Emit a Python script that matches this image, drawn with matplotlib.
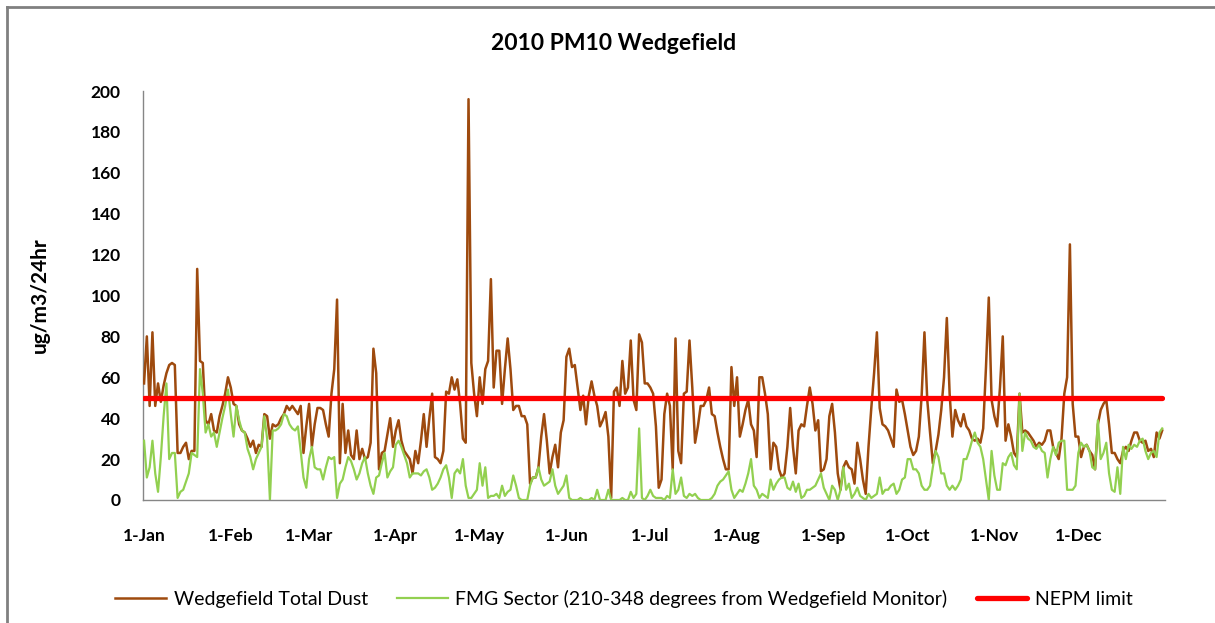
import matplotlib
matplotlib.use("Agg")
import matplotlib.pyplot as plt
import matplotlib.dates as mdates
from matplotlib.ticker import FuncFormatter
from matplotlib.lines import Line2D
import pandas as pd

plt.rcParams['font.family'] = ['Lato', 'DejaVu Sans']

TITLE = "2010 PM10 Wedgefield"
Y_LABEL = "ug/m3/24hr"
SERIES_NAMES = ["Wedgefield Total Dust",
                "FMG Sector (210-348 degrees from Wedgefield Monitor)",
                "NEPM limit"]
NEPM_LIMIT = 50

# Wedgefield Total Dust, daily values by month (ug/m3/24hr)
total_jan = [57, 80, 46, 82, 46, 57, 48, 56, 62, 66, 67, 66, 23, 23, 26, 28, 20, 24, 24, 113,
             68, 67, 39, 37, 42, 34, 33, 41, 46, 52, 60]
total_feb = [55, 47, 46, 37, 34, 33, 30, 26, 29, 23, 27, 26, 42, 41, 30, 37, 36, 37, 40, 42,
             46, 44, 46, 44, 42, 46, 23, 36]
total_mar = [47, 26, 37, 45, 45, 44, 37, 31, 52, 64, 98, 18, 47, 23, 34, 22, 20, 34, 20, 25,
             20, 21, 28, 74, 62, 15, 23, 24, 32, 40, 26]
total_apr = [34, 39, 29, 24, 22, 20, 13, 24, 18, 29, 42, 26, 40, 52, 21, 20, 18, 24, 53, 52,
             60, 54, 59, 47, 30, 28, 196, 67, 52, 41]
total_may = [60, 47, 64, 68, 108, 55, 73, 73, 47, 64, 79, 64, 44, 46, 46, 41, 41, 37, 8, 11,
             11, 16, 31, 42, 29, 13, 21, 27, 16, 33, 39]
total_jun = [70, 74, 65, 66, 55, 44, 51, 37, 51, 58, 51, 46, 36, 39, 43, 31, 1, 53, 55, 46,
             68, 52, 55, 78, 49, 44, 81, 77, 57, 57]
total_jul = [55, 52, 36, 6, 10, 42, 52, 46, 15, 79, 24, 18, 52, 53, 78, 55, 28, 36, 46, 46,
             49, 55, 42, 41, 33, 26, 20, 15, 15, 65, 46]
total_aug = [60, 31, 37, 44, 49, 37, 34, 21, 60, 60, 52, 42, 15, 28, 26, 15, 11, 13, 26, 45,
             26, 13, 34, 37, 36, 46, 55, 47, 34, 39, 14]
total_sep = [15, 20, 41, 47, 33, 13, 5, 16, 19, 16, 15, 8, 28, 20, 10, 3, 26, 45, 62, 82,
             45, 37, 36, 34, 30, 26, 54, 48, 49, 42]
total_oct = [34, 26, 22, 24, 31, 51, 82, 49, 33, 18, 24, 32, 44, 60, 89, 52, 31, 44, 39, 36,
             42, 36, 34, 30, 29, 30, 28, 35, 65, 99, 49]
total_nov = [41, 36, 55, 80, 29, 37, 31, 23, 21, 52, 33, 34, 33, 31, 29, 26, 28, 27, 29, 34,
             34, 26, 23, 20, 30, 52, 60, 125, 47, 31]
total_dec = [31, 21, 26, 27, 24, 22, 15, 37, 44, 47, 49, 37, 23, 23, 20, 18, 24, 26, 24, 29,
             33, 33, 29, 28, 29, 24, 25, 21, 33, 30, 34]

# FMG Sector (210-348 degrees), daily values by month
fmg_jan = [29, 11, 16, 29, 13, 4, 21, 41, 57, 20, 23, 23, 1, 4, 5, 9, 13, 23, 22, 21,
           64, 52, 33, 37, 31, 33, 26, 33, 40, 46, 54]
fmg_feb = [42, 31, 46, 39, 34, 33, 25, 21, 15, 20, 23, 26, 41, 30, 0, 34, 34, 35, 37, 42,
           41, 37, 35, 34, 36, 24, 11, 6]
fmg_mar = [20, 26, 16, 15, 15, 10, 16, 21, 20, 21, 1, 8, 10, 16, 21, 19, 15, 10, 13, 18,
           21, 13, 7, 3, 11, 12, 18, 23, 11, 14, 16]
fmg_apr = [27, 29, 26, 22, 18, 11, 13, 13, 13, 12, 14, 15, 11, 5, 6, 8, 11, 15, 17, 11,
           1, 13, 15, 13, 20, 7, 1, 1, 3, 5]
fmg_may = [18, 7, 16, 1, 2, 2, 3, 1, 7, 2, 4, 5, 12, 7, 1, 0, 0, 0, 7, 11,
           11, 16, 10, 7, 8, 9, 15, 7, 3, 5, 7]
fmg_jun = [12, 1, 0, 0, 0, 1, 0, 0, 0, 1, 0, 5, 0, 0, 0, 5, 0, 0, 0, 0,
           1, 0, 0, 4, 1, 3, 35, 1, 0, 2]
fmg_jul = [5, 2, 1, 1, 1, 0, 2, 1, 15, 3, 5, 11, 2, 1, 3, 2, 3, 1, 0, 0,
           0, 0, 1, 3, 7, 9, 10, 12, 14, 5, 1]
fmg_aug = [3, 5, 4, 8, 13, 20, 7, 5, 1, 3, 2, 1, 10, 5, 8, 10, 11, 11, 6, 5,
           9, 4, 8, 1, 2, 5, 5, 6, 7, 10, 13]
fmg_sep = [6, 3, 0, 7, 5, 0, 5, 16, 5, 8, 1, 3, 6, 2, 1, 0, 3, 1, 2, 3,
           11, 3, 5, 5, 7, 8, 3, 5, 10, 11]
fmg_oct = [20, 20, 15, 15, 13, 7, 5, 5, 7, 16, 24, 21, 13, 13, 7, 5, 7, 5, 7, 10,
           20, 20, 24, 29, 33, 28, 26, 20, 10, 0, 24]
fmg_nov = [12, 5, 5, 18, 17, 21, 23, 17, 15, 52, 24, 33, 30, 29, 26, 25, 27, 24, 23, 11,
           20, 26, 22, 28, 29, 29, 5, 5, 5, 7]
fmg_dec = [23, 28, 26, 27, 24, 16, 15, 39, 20, 23, 28, 13, 5, 4, 16, 3, 26, 20, 27, 25,
           27, 26, 29, 30, 24, 20, 23, 24, 21, 33, 35]

Y_TICKS = [0, 20, 40, 60, 80, 100, 120, 140, 160, 180, 200]
MONTH_TICKS = ["2010-01-01", "2010-02-01", "2010-03-01", "2010-04-01", "2010-05-01",
               "2010-06-01", "2010-07-01", "2010-08-01", "2010-09-01", "2010-10-01",
               "2010-11-01", "2010-12-01"]

total = (total_jan + total_feb + total_mar + total_apr + total_may + total_jun +
         total_jul + total_aug + total_sep + total_oct + total_nov + total_dec)
fmg = (fmg_jan + fmg_feb + fmg_mar + fmg_apr + fmg_may + fmg_jun +
       fmg_jul + fmg_aug + fmg_sep + fmg_oct + fmg_nov + fmg_dec)
dates = pd.date_range("2010-01-01", periods=len(total), freq="D")

BROWN = "#9E4A0E"
GREEN = "#92D050"
RED = "#FF0000"
AXIS_GREY = "#868686"

W, H = 1215, 623
fig = plt.figure(figsize=(W / 100, H / 100), dpi=100)
ax = fig.add_axes([143 / W, 1 - 500 / H, (1165 - 143) / W, (500 - 91) / H])

ax.plot(dates, total, color=BROWN, lw=1.8, solid_joinstyle='round', zorder=3)
ax.plot(dates, fmg, color=GREEN, lw=1.6, solid_joinstyle='round', zorder=4)
ax.plot(dates, [NEPM_LIMIT] * len(dates), color=RED, lw=3.8,
        solid_capstyle='round', zorder=5)

start = pd.Timestamp("2010-01-01")
ax.set_xlim(start - pd.Timedelta(hours=9), start + pd.Timedelta(days=365))
ax.set_ylim(0, 200)
ax.set_yticks(Y_TICKS)

ax.set_xticks(pd.to_datetime(MONTH_TICKS))
ax.xaxis.set_major_formatter(FuncFormatter(
    lambda v, p: f"{mdates.num2date(v).day}-{mdates.num2date(v).strftime('%b')}"))

for s in ["top", "right"]:
    ax.spines[s].set_visible(False)
for s in ["left", "bottom"]:
    ax.spines[s].set_color(AXIS_GREY)
    ax.spines[s].set_linewidth(1.0)

ax.tick_params(axis='y', length=0, pad=16, labelsize=12.5)
ax.tick_params(axis='x', length=0, pad=20, labelsize=12.5)
for lbl in ax.get_xticklabels() + ax.get_yticklabels():
    lbl.set_fontweight('bold')

fig.text(614 / W, 1 - 43 / H, TITLE, ha='center', va='center',
         fontsize=16.5, fontweight='bold')
fig.text(40 / W, 1 - 295 / H, Y_LABEL, ha='center', va='center',
         rotation=90, fontsize=15, fontweight='bold')

handles = [Line2D([], [], color=BROWN, lw=1.8),
           Line2D([], [], color=GREEN, lw=1.6),
           Line2D([], [], color=RED, lw=3.8, solid_capstyle='round')]
fig.legend(handles, SERIES_NAMES, loc='center', ncol=3, frameon=False,
           bbox_to_anchor=(624 / W, 1 - 599 / H), fontsize=14,
           handlelength=2.6, handletextpad=0.4, columnspacing=1.5)

# outer chart border (left and top edges visible)
fig.add_artist(Line2D([7 / W, 7 / W], [0, 1 - 7 / H], transform=fig.transFigure,
                      color="#808080", lw=2))
fig.add_artist(Line2D([7 / W, 1], [1 - 7 / H, 1 - 7 / H], transform=fig.transFigure,
                      color="#808080", lw=2))

fig.savefig("out.png", dpi=100)
